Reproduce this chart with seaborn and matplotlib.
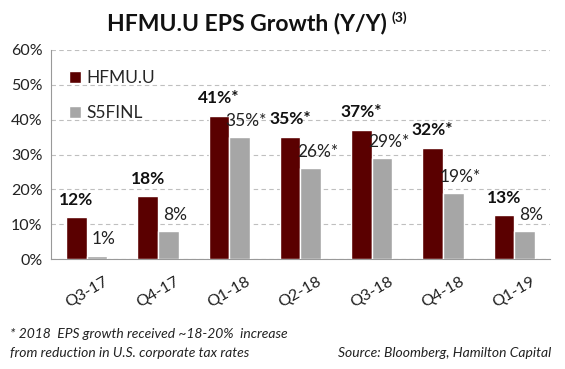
import matplotlib
matplotlib.use("Agg")
import matplotlib.pyplot as plt
import matplotlib.transforms as mtransforms
import seaborn as sns
import pandas as pd

quarters = ["Q3-17", "Q4-17", "Q1-18", "Q2-18", "Q3-18", "Q4-18", "Q1-19"]
hfmu = [12, 18, 41, 35, 37, 32, 12.5]
s5finl = [1, 8, 35, 26, 29, 19, 8]
hfmu_labels = ["12%", "18%", "41%*", "35%*", "37%*", "32%*", "13%"]
s5finl_labels = ["1%", "8%", "35%*", "26%*", "29%*", "19%*", "8%"]
series = ["HFMU.U", "S5FINL"]
yticks = [0, 10, 20, 30, 40, 50, 60]

sns.set_theme(style="white")
plt.rcParams["font.family"] = ["Lato", "DejaVu Sans"]

df = pd.DataFrame({
    "Quarter": quarters * 2,
    "Series": [series[0]] * len(quarters) + [series[1]] * len(quarters),
    "Value": hfmu + s5finl,
})

fig = plt.figure(figsize=(5.65, 3.69), dpi=100)
ax = fig.add_axes([0.0903, 0.298, 0.883, 0.5665])
palette = {series[0]: "#5A0000", series[1]: "#A6A6A6"}
sns.barplot(data=df, x="Quarter", y="Value", hue="Series", palette=palette,
            width=0.58, saturation=1, ax=ax, legend=True, zorder=3)

ax.set_ylim(0, 60)
ax.set_xlim(-0.5, len(quarters) - 0.5)
ax.set_yticks(yticks)
ax.set_yticklabels([f"{v}%" for v in yticks], fontsize=11.5, color="#222222")
ax.set_xticks(range(len(quarters)))
ax.set_xticklabels(quarters, rotation=30, fontsize=11.5, color="#222222",
                   ha="center")
shift = mtransforms.ScaledTranslation(-10 / 72, 0, fig.dpi_scale_trans)
for lbl in ax.get_xticklabels():
    lbl.set_transform(lbl.get_transform() + shift)
ax.tick_params(axis="x", length=0, pad=11)
ax.tick_params(axis="y", length=0, pad=6)
ax.set_xlabel("")
ax.set_ylabel("")
ax.yaxis.grid(True, linestyle=(0, (4, 3)), color="#BFBFBF", linewidth=0.8, zorder=0)
for s in ["top", "right"]:
    ax.spines[s].set_visible(False)
ax.spines["left"].set_color("#999999")
ax.spines["bottom"].set_color("#999999")
ax.spines["left"].set_linewidth(0.8)
ax.spines["bottom"].set_linewidth(0.8)

conts = ax.containers
for bar, lab in zip(conts[0], hfmu_labels):
    ax.annotate(lab, (bar.get_x() + bar.get_width() / 2, bar.get_height()),
                xytext=(0, 7), textcoords="offset points", ha="center",
                va="bottom", fontsize=12.5, fontweight="bold", color="#111111")
for bar, lab in zip(conts[1], s5finl_labels):
    ax.annotate(lab, (bar.get_x() + bar.get_width() / 2, bar.get_height()),
                xytext=(5, 6), textcoords="offset points", ha="center",
                va="bottom", fontsize=12.5, color="#222222")

leg = ax.legend(loc="upper left", bbox_to_anchor=(0.005, 0.98), frameon=False,
                fontsize=12.5, handlelength=0.7, handleheight=0.7,
                labelspacing=1.1, handletextpad=0.3)

title = fig.text(0.19, 0.935, "HFMU.U EPS Growth (Y/Y)", ha="left",
                 va="center", fontsize=16.5, fontweight="bold", color="#111111")
fig.canvas.draw()
bb = title.get_window_extent(renderer=fig.canvas.get_renderer())
x_end = bb.x1 / fig.bbox.width
fig.text(x_end + 0.008, 0.952, "(3)", ha="left", va="center", fontsize=10,
         fontweight="bold", color="#111111")

fig.text(0.018, 0.095, "* 2018  EPS growth received ~18-20%  increase",
         ha="left", va="center", fontsize=10, style="italic", color="#222222")
fig.text(0.018, 0.043, "from reduction in U.S. corporate tax rates",
         ha="left", va="center", fontsize=10, style="italic", color="#222222")
fig.text(0.975, 0.043, "Source: Bloomberg, Hamilton Capital",
         ha="right", va="center", fontsize=10, style="italic", color="#222222")

fig.savefig("out.png", dpi=100)
